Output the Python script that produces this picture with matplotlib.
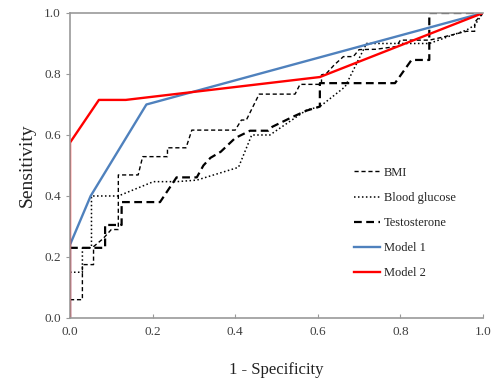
import matplotlib
matplotlib.use("Agg")
import matplotlib.pyplot as plt

# ROC curves (x = 1 - specificity, y = sensitivity)
bmi_x = [0, 0.03, 0.03, 0.057, 0.057, 0.08, 0.10, 0.117, 0.117, 0.165, 0.176, 0.236, 0.236,
         0.281, 0.295, 0.40, 0.415, 0.427, 0.458, 0.545, 0.557, 0.609, 0.609, 0.621, 0.64,
         0.662, 0.686, 0.70, 0.74, 0.79, 0.80, 0.87, 0.90, 0.96, 0.98, 0.98, 1.0]
bmi_y = [0.06, 0.06, 0.175, 0.175, 0.234, 0.26, 0.29, 0.29, 0.469, 0.469, 0.529, 0.529, 0.558,
         0.558, 0.616, 0.616, 0.649, 0.649, 0.734, 0.734, 0.766, 0.766, 0.797, 0.802, 0.83,
         0.857, 0.857, 0.88, 0.881, 0.89, 0.911, 0.911, 0.92, 0.94, 0.94, 0.97, 1.0]

glu_x = [0, 0.03, 0.03, 0.052, 0.052, 0.117, 0.202, 0.258, 0.307, 0.408, 0.44, 0.484, 0.573,
         0.605, 0.666, 0.718, 0.87, 0.96, 0.98, 1.0]
glu_y = [0.15, 0.15, 0.23, 0.23, 0.40, 0.40, 0.447, 0.447, 0.452, 0.494, 0.60, 0.60, 0.682,
         0.693, 0.758, 0.90, 0.90, 0.944, 0.96, 1.0]

tes_x = [0, 0.085, 0.085, 0.125, 0.125, 0.218, 0.258, 0.307, 0.323, 0.34, 0.365, 0.40, 0.436,
         0.48, 0.49, 0.54, 0.573, 0.605, 0.605, 0.787, 0.827, 0.87, 0.87, 1.0]
tes_y = [0.23, 0.23, 0.305, 0.305, 0.38, 0.38, 0.461, 0.461, 0.50, 0.525, 0.545, 0.59, 0.614,
         0.614, 0.627, 0.66, 0.68, 0.693, 0.77, 0.77, 0.846, 0.846, 1.0, 1.0]

m1_x = [0, 0, 0.05, 0.185, 1.0]
m1_y = [0, 0.24, 0.40, 0.70, 1.0]

m2_x = [0, 0, 0.07, 0.135, 0.605, 1.0]
m2_y = [0, 0.575, 0.715, 0.715, 0.79, 1.0]

ticks = [0, 0.2, 0.4, 0.6, 0.8, 1.0]
tick_labels = ["0.0", "0.2", "0.4", "0.6", "0.8", "1.0"]

plt.rcParams["font.family"] = ["Liberation Serif", "DejaVu Serif"]

fig = plt.figure(figsize=(4.94, 3.81), dpi=100)
ax = fig.add_axes([0.1417, 0.1654, 0.8360, 0.8005])

ax.plot(bmi_x, bmi_y, color="black", lw=1.0, dashes=(3, 2), label="BMI")
ax.plot(glu_x, glu_y, color="black", lw=1.1, dashes=(1, 1.6), label="Blood glucose")
ax.plot(tes_x, tes_y, color="black", lw=1.6, dashes=(3.5, 2), label="Testosterone")
ax.plot(m1_x, m1_y, color="#4F81BD", lw=1.7, label="Model 1")
ax.plot(m2_x, m2_y, color="#FF0000", lw=1.7, label="Model 2")

ax.set_xlim(0, 1)
ax.set_ylim(0, 1)
ax.set_xticks(ticks)
ax.set_yticks(ticks)
ax.set_xticklabels(tick_labels)
ax.set_yticklabels(tick_labels)
ax.tick_params(axis="both", colors="#999999", labelcolor="#404040", labelsize=9.5, length=3)
ax.tick_params(axis="x", direction="in", pad=6)

for side in ["left", "bottom", "top"]:
    ax.spines[side].set_color("#999999")
    ax.spines[side].set_linewidth(1.2)
ax.spines["right"].set_visible(False)

ax.set_xlabel("1 - Specificity", fontsize=12, color="#222222", labelpad=17)
ax.set_ylabel("Sensitivity", fontsize=14, color="#222222", labelpad=6)

leg = ax.legend(loc="lower left", bbox_to_anchor=(0.66, 0.09), frameon=False, fontsize=9,
                handlelength=2.1, handletextpad=0.3, labelspacing=1.05)
for t in leg.get_texts():
    t.set_color("#222222")

fig.savefig("out.png", dpi=100)
